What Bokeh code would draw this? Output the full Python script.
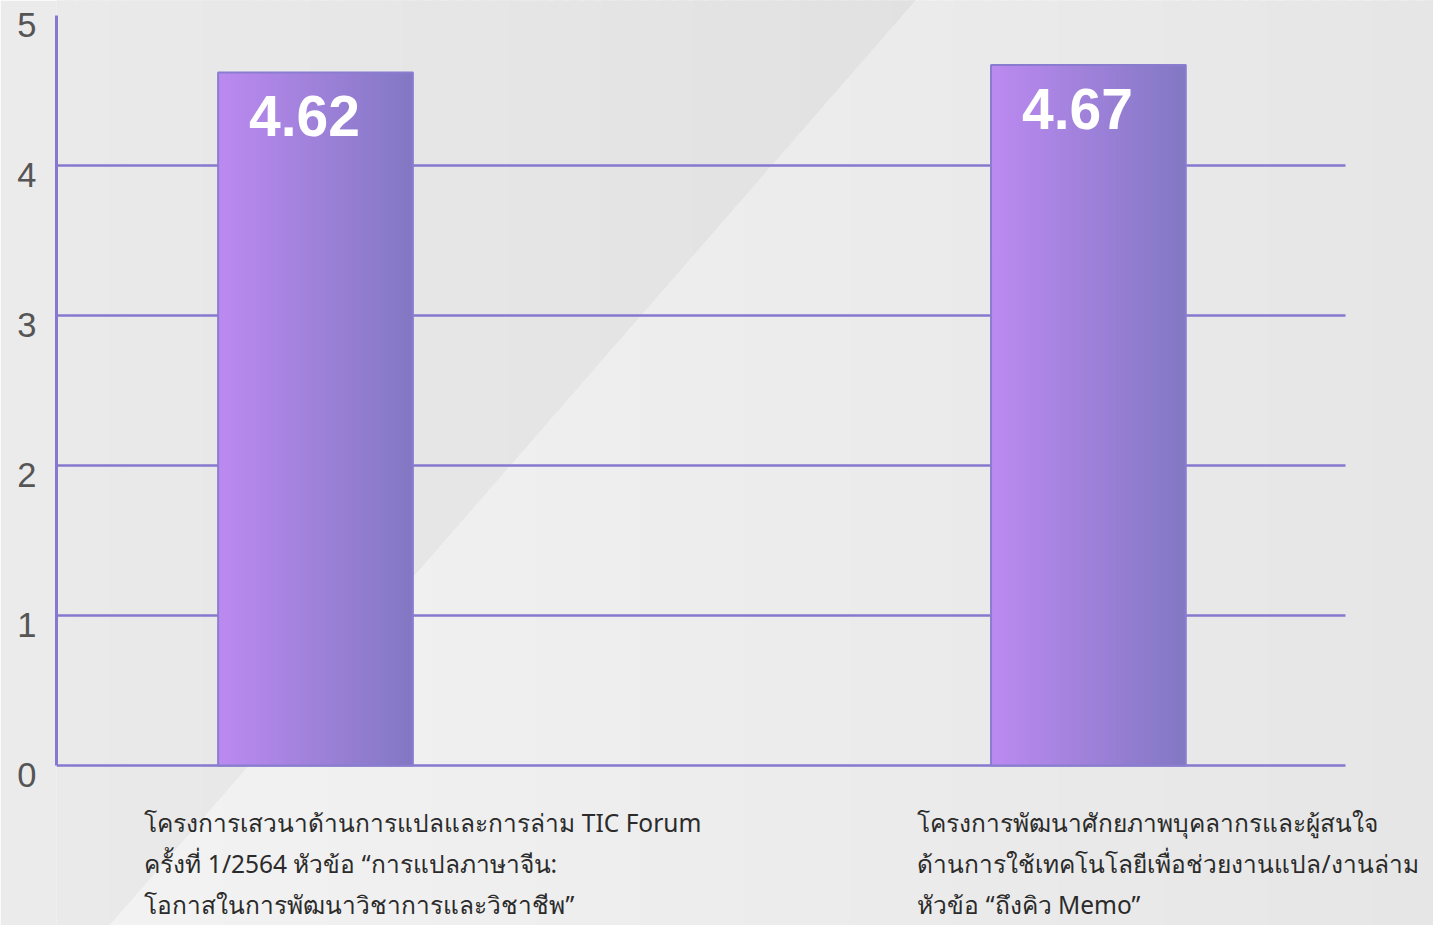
import numpy as np
from bokeh.plotting import figure
from bokeh.models import Range1d, FixedTicker, CustomJSTickFormatter, ColumnDataSource
from bokeh.core.properties import value
from bokeh.embed import file_html
from bokeh.resources import INLINE

# ---- data ----
categories = [
    "โครงการเสวนาด้านการแปลและการล่าม TIC Forum\nครั้งที่ 1/2564 หัวข้อ “การแปลภาษาจีน:\nโอกาสในการพัฒนาวิชาการและวิชาชีพ”",
    "โครงการพัฒนาศักยภาพบุคลากรและผู้สนใจ\nด้านการใช้เทคโนโลยีเพื่อช่วยงานแปล/งานล่าม\nหัวข้อ “ถึงคิว Memo”",
]
scores = [4.62, 4.67]
value_labels = ["4.62", "4.67"]
y_ticks = [0, 1, 2, 3, 4, 5]
y_tick_labels = ["0", "1", "2", "3", "4", "5"]

# ---- styles ----
GRID = "#8677cf"
C_LEFT = np.array([0xBB, 0x8A, 0xF0])
C_RIGHT = np.array([0x83, 0x78, 0xC4])
PX_Y = 150.0      # pixels per unit on y
BAR_W = 0.252
N_SLICES = 48
X0, X1 = -0.3351, 1.4465
Y0, Y1 = -1.0667, 5.1
YTOP = 5.3

W, H = 1433, 925
p = figure(width=W, height=H, output_backend="svg", toolbar_location=None,
           x_range=Range1d(X0, X1), y_range=Range1d(Y0, Y1),
           min_border_left=56, min_border_right=0, min_border_top=0, min_border_bottom=0)
p.outline_line_color = None
p.background_fill_color = "#ededed"
p.border_fill_color = "#ebebeb"
p.xaxis.visible = False
p.xgrid.visible = False
p.ygrid.visible = False


def lerp_hex(a, b, f):
    c = np.round(np.array(a) * (1 - f) + np.array(b) * f).astype(int)
    return "#%02x%02x%02x" % tuple(c)


# background: light gradient + darker diagonal region (decoration)
n_bg = 80
edges = np.linspace(X0 - 0.01, X1 + 0.01, n_bg + 1)
dx = edges[1] - edges[0]
bxs, bys, bcs = [], [], []
for i in range(n_bg):
    xa, xb = edges[i], edges[i + 1] + dx * 0.6
    f = i / (n_bg - 1)
    bxs.append([xa, xb, xb, xa])
    bys.append([Y0 - 0.1, Y0 - 0.1, YTOP, YTOP])
    bcs.append(lerp_hex([0xF3, 0xF3, 0xF3], [0xE6, 0xE6, 0xE6], f))
p.patches(bxs, bys, fill_color=bcs, line_color=None)

# diagonal: x = xd(y), linear between (0.776, 5.1) and (-0.2668, -1.0667)
DA = (0.776, 5.1)
DB = (-0.2668, -1.0667)


def yd(x):
    return DB[1] + (x - DB[0]) * (DA[1] - DB[1]) / (DA[0] - DB[0])


dxs, dys, dcs = [], [], []
d_edges = np.linspace(X0 - 0.01, DA[0] + 0.05, 60)
dd = d_edges[1] - d_edges[0]
for i in range(len(d_edges) - 1):
    xa, xb = d_edges[i], d_edges[i + 1] + dd * 0.6
    ya, yb = max(Y0 - 0.1, yd(xa)), max(Y0 - 0.1, yd(xb))
    if ya >= YTOP:
        continue
    yb = min(yb, YTOP)
    f = i / (len(d_edges) - 2)
    dxs.append([xa, xb, xb, xa])
    dys.append([ya, yb, YTOP, YTOP])
    dcs.append(lerp_hex([0xEA, 0xEA, 0xEA], [0xE1, 0xE1, 0xE1], f))
p.patches(dxs, dys, fill_color=dcs, line_color=None)

# y axis
off = 10.0 / PX_Y
p.yaxis.ticker = FixedTicker(ticks=[t - off for t in y_ticks])
p.yaxis.formatter = CustomJSTickFormatter(args=dict(labels=y_tick_labels),
                                          code="return labels[Math.round(tick)] ?? '';")
p.yaxis.bounds = (0, 5)
p.yaxis.axis_line_color = GRID
p.yaxis.axis_line_width = 3
p.yaxis.major_tick_line_color = None
p.yaxis.minor_tick_line_color = None
p.yaxis.major_tick_out = 0
p.yaxis.major_label_standoff = 20
p.yaxis.major_label_text_font = "Liberation Sans"
p.yaxis.major_label_text_font_size = "34.5px"
p.yaxis.major_label_text_color = "#555555"

# gridlines (stop short of right edge)
grid_vals = [t for t in y_ticks if t < max(y_ticks)]
p.segment(x0=[X0] * len(grid_vals), x1=[1.3326] * len(grid_vals),
          y0=grid_vals, y1=grid_vals, line_color=GRID, line_width=2.5)

# gradient bars
xs = np.arange(len(scores))
l, r, t, b, cols = [], [], [], [], []
for xi, s in zip(xs, scores):
    x0 = xi - BAR_W / 2
    step = BAR_W / N_SLICES
    for k in range(N_SLICES):
        f = k / (N_SLICES - 1)
        l.append(x0 + k * step)
        r.append(min(x0 + (k + 2) * step, xi + BAR_W / 2))
        t.append(s)
        b.append(0)
        cols.append(lerp_hex(C_LEFT, C_RIGHT, f))
p.quad(left=l, right=r, top=t, bottom=b, fill_color=cols, line_color=None)
p.quad(left=xs - BAR_W / 2, right=xs + BAR_W / 2, top=scores, bottom=[0] * len(scores),
       fill_color=None, line_color="#8a7dd0", line_width=2)

# value labels
p.text(x=xs, y=scores, text=value_labels, text_align="center", text_baseline="top",
       x_offset=-11, y_offset=24, text_color="white",
       text_font=value("Liberation Sans"), text_font_style="bold", text_font_size="57px")

# category labels (left aligned, line by line)
lx, ly, lt, loff = [], [], [], []
for xi, cat in zip(xs, categories):
    for i, line in enumerate(cat.split("\n")):
        lx.append(xi)
        ly.append(0)
        lt.append(line)
        loff.append(57 + 41 * i)
src = ColumnDataSource(dict(x=lx, y=ly, text=lt, yo=loff))
p.text(x="x", y="y", text="text", y_offset="yo", x_offset=-171, source=src,
       text_align="left", text_baseline="middle", text_color="#2b2b2b",
       text_font=value("Noto Sans"), text_font_size="24.5px")

open("out.html", "w").write(file_html(p, INLINE))
